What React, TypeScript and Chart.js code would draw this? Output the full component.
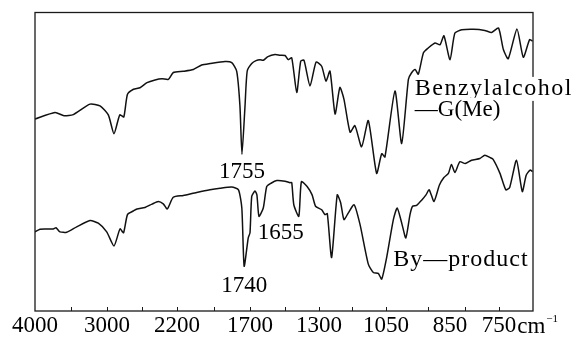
import React, { useEffect, useRef } from 'react';
import { Chart, registerables, LinearScale } from 'chart.js';

// x-axis: labelled wavenumbers (cm-1) and the small inward tick marks
const TICK_WN = [4000, 3000, 2200, 1700, 1300, 1050, 850, 750];
const MARK_WN = [3500, 3000, 2600, 2200, 1950, 1700, 1500, 1300, 1175, 1050, 920, 820, 750];
// non-linear wavenumber axis of the recorder chart (knots of a piecewise scale)
const AXIS_WN = [4000, 3000, 2200, 1700, 1300, 1050, 850, 750, 680];
const AXIS_FRAC = [0, 72, 142, 215, 284, 351, 415, 464, 498].map((v) => v / 498);

// Benzylalcohol-G(Me) spectrum (upper trace): wavenumber / transmittance (arb.)
const TOP_WN = [4000, 3722, 3597, 3468, 3236, 3097, 2985, 2920, 2854, 2808, 2766, 2697, 2623, 2543, 2451, 2371, 2299, 2242, 2157, 2088, 2031, 1974, 1871, 1825, 1791, 1769, 1755, 1734, 1719, 1690, 1665, 1642, 1623, 1596, 1555, 1526, 1497, 1478, 1458, 1429, 1406, 1387, 1352, 1317, 1290, 1274, 1259, 1240, 1222, 1207, 1184, 1166, 1141, 1116, 1085, 1066, 1054, 1022, 1001, 980, 970, 959, 949, 933, 918, 897, 881, 869, 850, 840, 826, 802, 779, 765, 751, 741, 731, 713, 700, 687, 681];
const TOP_T = [64.3, 66.5, 65.4, 65.8, 69.3, 68.7, 65.7, 59.4, 65.7, 65.0, 72.6, 74.3, 74.8, 76.5, 77.4, 77.8, 77.6, 79.9, 80.3, 80.9, 82.4, 82.9, 83.6, 83.2, 80.3, 68.8, 52.5, 68.8, 80.4, 82.9, 83.9, 84.2, 84.0, 85.2, 85.9, 85.7, 85.6, 84.2, 84.8, 73.2, 83.7, 84.0, 75.4, 83.4, 82.0, 77.0, 80.4, 66.0, 74.9, 71.0, 59.9, 62.1, 55.0, 63.8, 46.1, 52.7, 51.6, 73.7, 56.1, 77.6, 79.8, 80.9, 79.3, 86.5, 88.1, 89.8, 89.2, 92.2, 84.2, 93.1, 94.2, 94.4, 94.0, 93.3, 94.8, 87.6, 84.5, 94.5, 85.0, 90.9, 90.4];

// By-product spectrum (lower trace)
const BOT_WN = [4000, 3931, 3861, 3746, 3708, 3653, 3560, 3421, 3236, 3121, 3004, 2920, 2851, 2811, 2766, 2700, 2657, 2566, 2486, 2414, 2357, 2311, 2243, 2157, 2065, 1974, 1905, 1825, 1779, 1756, 1740, 1712, 1700, 1690, 1671, 1660, 1648, 1623, 1603, 1578, 1545, 1497, 1468, 1458, 1446, 1417, 1402, 1369, 1340, 1320, 1290, 1278, 1269, 1253, 1232, 1219, 1207, 1191, 1169, 1147, 1116, 1097, 1079, 1066, 1048, 1027, 1015, 1001, 988, 975, 967, 954, 938, 925, 915, 900, 883, 869, 855, 847, 840, 830, 819, 806, 789, 779, 768, 762, 748, 736, 728, 714, 702, 694, 686, 681];
const BOT_T = [26.5, 27.4, 27.5, 27.5, 27.9, 26.5, 26.4, 28.2, 30.3, 29.4, 26.5, 21.8, 27.5, 26.2, 32.3, 33.5, 34.2, 34.7, 35.8, 36.7, 35.9, 34.2, 38.1, 38.7, 39.7, 40.6, 41.1, 41.5, 40.6, 34.5, 15.0, 24.5, 26.2, 38.4, 40.2, 38.9, 31.7, 34.5, 41.7, 42.8, 43.7, 43.5, 43.0, 43.0, 35.6, 31.7, 43.3, 41.7, 38.9, 35.1, 33.9, 32.3, 32.6, 17.9, 38.9, 36.2, 30.6, 32.8, 35.6, 29.0, 15.7, 12.9, 12.6, 10.7, 17.9, 30.6, 34.5, 29.5, 24.5, 32.3, 35.1, 35.4, 37.2, 38.9, 40.6, 36.7, 42.2, 44.7, 46.1, 49.1, 46.4, 50.0, 49.4, 50.5, 51.1, 52.2, 51.4, 50.8, 46.1, 40.6, 41.4, 50.5, 40.0, 45.5, 47.2, 46.7];

// text annotations anchored in data coordinates (wavenumber, transmittance)
const NOTE_TEXT = ['1755', '1740', '1655', 'Benzylalcohol', '—G(Me)', 'By—product'];
const NOTE_WN = [1755, 1740, 1655, 960, 960, 1027];
const NOTE_T = [44.7, 6.3, 24.0, 72.4, 65.4, 15.2];
const NOTE_ALIGN = ['center', 'center', 'left', 'left', 'left', 'left'];

const FONT = '"Liberation Serif", "Times New Roman", serif';

function wnToFrac(w: number): number {
  const n = AXIS_WN.length;
  for (let i = 0; i < n - 1; i++) {
    const a = AXIS_WN[i];
    const b = AXIS_WN[i + 1];
    if (w >= b || i === n - 2) {
      return AXIS_FRAC[i] + ((a - w) / (a - b)) * (AXIS_FRAC[i + 1] - AXIS_FRAC[i]);
    }
  }
  return 0;
}

function fracToWn(f: number): number {
  const n = AXIS_FRAC.length;
  for (let i = 0; i < n - 1; i++) {
    const a = AXIS_FRAC[i];
    const b = AXIS_FRAC[i + 1];
    if (f <= b || i === n - 2) {
      return AXIS_WN[i] + ((f - a) / (b - a)) * (AXIS_WN[i + 1] - AXIS_WN[i]);
    }
  }
  return AXIS_WN[0];
}

class IRScale extends LinearScale {
  static id = 'irscale';
  static defaults = {};
  buildTicks() {
    return TICK_WN.map((value) => ({ value }));
  }
  getPixelForValue(value: number) {
    return this.getPixelForDecimal(wnToFrac(value));
  }
  getValueForPixel(pixel: number) {
    return fracToWn(this.getDecimalForPixel(pixel));
  }
}

Chart.register(...registerables, IRScale as any);

const framePlugin = {
  id: 'irFrame',
  afterDraw(chart: any) {
    const { ctx, chartArea: a, scales } = chart;
    const xs = scales.x;
    const ys = scales.y;
    ctx.save();
    // frame
    ctx.strokeStyle = '#1a1a1a';
    ctx.lineWidth = 1.3;
    ctx.strokeRect(a.left, a.top, a.right - a.left, a.bottom - a.top);
    // inward tick marks
    ctx.lineWidth = 1;
    ctx.beginPath();
    MARK_WN.forEach((w) => {
      const x = Math.round(xs.getPixelForValue(w)) + 0.5;
      ctx.moveTo(x, a.bottom);
      ctx.lineTo(x, a.bottom - 4);
    });
    ctx.stroke();
    // annotations
    ctx.textBaseline = 'alphabetic';
    NOTE_TEXT.forEach((text, i) => {
      const big = i >= 3 && i !== 4;
      ctx.font = `${big ? 24 : 23}px ${FONT}`;
      (ctx as any).letterSpacing = i === 3 ? '1.5px' : i === 5 ? '1px' : '0px';
      ctx.textAlign = NOTE_ALIGN[i];
      const x = xs.getPixelForValue(NOTE_WN[i]);
      const y = ys.getPixelForValue(NOTE_T[i]);
      if (i === 3 || i === 4) {
        const w = ctx.measureText(text).width;
        ctx.fillStyle = '#fff';
        ctx.fillRect(x - 1, y - 18, w + 4, 24);
      }
      ctx.fillStyle = '#000';
      ctx.fillText(text, x, y);
    });
    (ctx as any).letterSpacing = '0px';
    // unit after the last tick label
    const x750 = xs.getPixelForValue(750);
    ctx.font = `23px ${FONT}`;
    ctx.textAlign = 'left';
    const half = ctx.measureText('750').width / 2;
    const base = a.bottom + 22;
    ctx.fillText('cm', x750 + half + 1, base);
    const cmw = ctx.measureText('cm').width;
    ctx.font = `11px ${FONT}`;
    ctx.fillText('−1', x750 + half + 2 + cmw, base - 11);
    ctx.restore();
  },
};

export default function App() {
  const ref = useRef<HTMLCanvasElement | null>(null);
  useEffect(() => {
    if (!ref.current) return;
    const chart = new Chart(ref.current, {
      type: 'line',
      data: {
        datasets: [
          {
            label: 'Benzylalcohol-G(Me)',
            data: TOP_WN.map((x, i) => ({ x, y: TOP_T[i] })),
            borderColor: '#111',
            borderWidth: 1.5,
            pointRadius: 0,
            tension: 0.2,
            fill: false,
          },
          {
            label: 'By-product',
            data: BOT_WN.map((x, i) => ({ x, y: BOT_T[i] })),
            borderColor: '#111',
            borderWidth: 1.5,
            pointRadius: 0,
            tension: 0.2,
            fill: false,
          },
        ],
      },
      options: {
        animation: false,
        responsive: true,
        maintainAspectRatio: false,
        layout: { padding: { left: 35, right: 40, top: 12.5, bottom: 0 } },
        plugins: { legend: { display: false }, tooltip: { enabled: false } },
        scales: {
          x: {
            type: 'irscale' as any,
            min: 680,
            max: 4000,
            grid: { display: false, drawTicks: false },
            border: { display: false },
            ticks: {
              autoSkip: false,
              maxRotation: 0,
              minRotation: 0,
              padding: 3,
              color: '#000',
              font: { family: FONT, size: 23, lineHeight: 1 },
              callback: (v: any) => String(v),
            },
          },
          y: { display: false, min: 0, max: 100 },
        },
      },
      plugins: [framePlugin],
    });
    return () => chart.destroy();
  }, []);
  return (
    <div style={{ position: 'fixed', left: 0, top: 0, width: 573, height: 340, background: '#fff' }}>
      <canvas ref={ref} />
    </div>
  );
}
